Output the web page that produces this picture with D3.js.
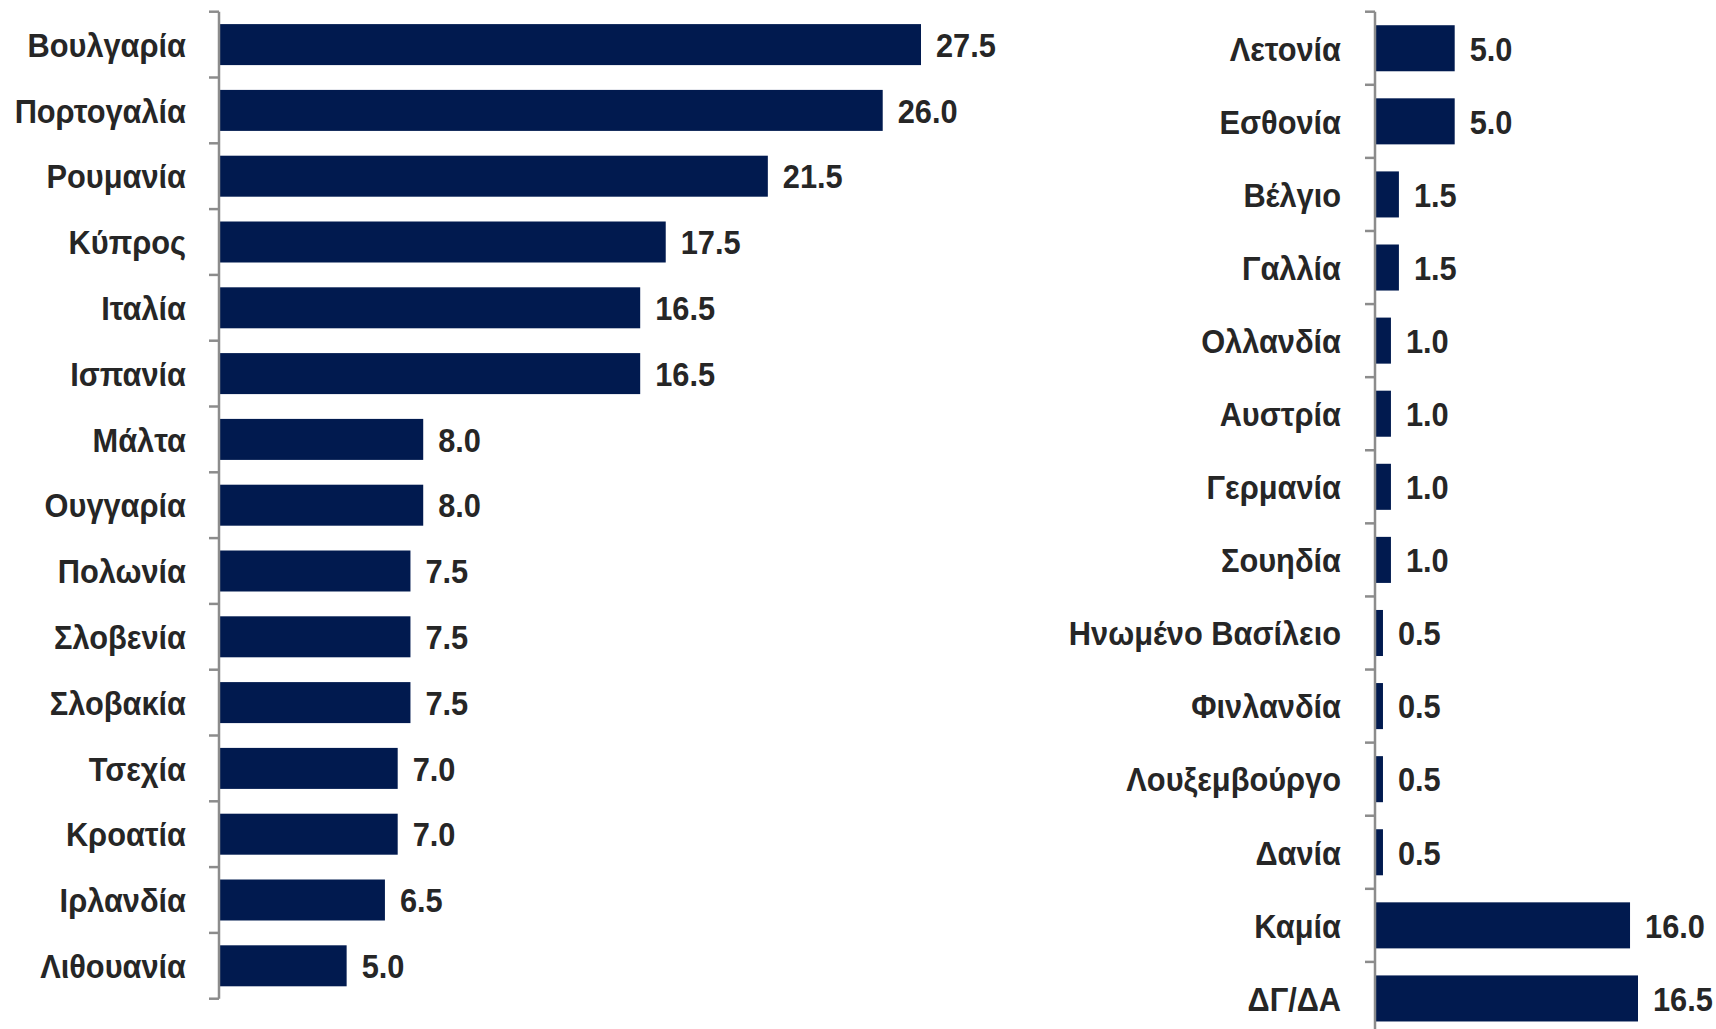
<!DOCTYPE html>
<html>
<head>
<meta charset="utf-8">
<script src="https://cdn.jsdelivr.net/npm/d3@7/dist/d3.min.js"></script>
<style>
  html, body { margin: 0; padding: 0; background: #fff; }
  svg { display: block; }
  text { font-family: "Liberation Sans", Arial, sans-serif; font-weight: bold; fill: #262626; }
</style>
</head>
<body>
<svg id="chart" width="1716" height="1029"></svg>
<script>
const leftCategories = ["Βουλγαρία","Πορτογαλία","Ρουμανία","Κύπρος","Ιταλία","Ισπανία","Μάλτα","Ουγγαρία","Πολωνία","Σλοβενία","Σλοβακία","Τσεχία","Κροατία","Ιρλανδία","Λιθουανία"];
const leftValues = [27.5, 26.0, 21.5, 17.5, 16.5, 16.5, 8.0, 8.0, 7.5, 7.5, 7.5, 7.0, 7.0, 6.5, 5.0];
const rightCategories = ["Λετονία","Εσθονία","Βέλγιο","Γαλλία","Ολλανδία","Αυστρία","Γερμανία","Σουηδία","Ηνωμένο Βασίλειο","Φινλανδία","Λουξεμβούργο","Δανία","Καμία","ΔΓ/ΔΑ"];
const rightValues = [5.0, 5.0, 1.5, 1.5, 1.0, 1.0, 1.0, 1.0, 0.5, 0.5, 0.5, 0.5, 16.0, 16.5];

const svg = d3.select("#chart");
const barColor = "#011a4f";
const axisColor = "#8c8c8c";
const fontSize = 34;
const squeeze = 0.905;

function panel(cats, vals, opts) {
  const data = cats.map((c, i) => ({c, v: vals[i]}));
  const x = d3.scaleLinear().domain([0, opts.maxV]).range([opts.x0, opts.x1]);
  const y = d3.scaleBand().domain(cats).range([opts.y0, opts.y1])
    .paddingInner(opts.pad).paddingOuter(opts.pad / 2);
  const g = svg.append("g");
  const step = y.step();
  g.selectAll("rect.bar").data(data).join("rect")
    .attr("class", "bar")
    .attr("x", x(0))
    .attr("y", d => y(d.c))
    .attr("width", d => x(d.v) - x(0))
    .attr("height", y.bandwidth())
    .attr("fill", barColor);
  g.append("line")
    .attr("x1", x(0)).attr("x2", x(0))
    .attr("y1", opts.y0).attr("y2", opts.y1)
    .attr("stroke", axisColor).attr("stroke-width", 2.5);
  const bounds = d3.range(cats.length + 1).map(i => opts.y0 + i * step);
  g.selectAll("line.tick").data(bounds).join("line")
    .attr("class", "tick")
    .attr("x1", x(0) - 10).attr("x2", x(0))
    .attr("y1", d => d).attr("y2", d => d)
    .attr("stroke", axisColor).attr("stroke-width", 2.5);
  g.selectAll("text.cat").data(data).join("text")
    .attr("class", "cat")
    .attr("transform", d => `translate(${x(0) - opts.labelGap},${y(d.c) + y.bandwidth() / 2}) scale(${squeeze},1)`)
    .attr("dy", "0.36em")
    .attr("text-anchor", "end")
    .attr("font-size", fontSize)
    .text(d => d.c);
  g.selectAll("text.val").data(data).join("text")
    .attr("class", "val")
    .attr("transform", d => `translate(${x(d.v) + opts.valGap},${y(d.c) + y.bandwidth() / 2}) scale(${squeeze},1)`)
    .attr("dy", "0.36em")
    .attr("font-size", fontSize)
    .text(d => d3.format(".1f")(d.v));
}

panel(leftCategories, leftValues, {maxV: 27.5, x0: 219, x1: 921, y0: 11.7, y1: 998.7, pad: 0.377, labelGap: 33, valGap: 15});
panel(rightCategories, rightValues, {maxV: 16.5, x0: 1375, x1: 1638, y0: 11.7, y1: 1035, pad: 0.37, labelGap: 34, valGap: 15});
</script>
</body>
</html>
